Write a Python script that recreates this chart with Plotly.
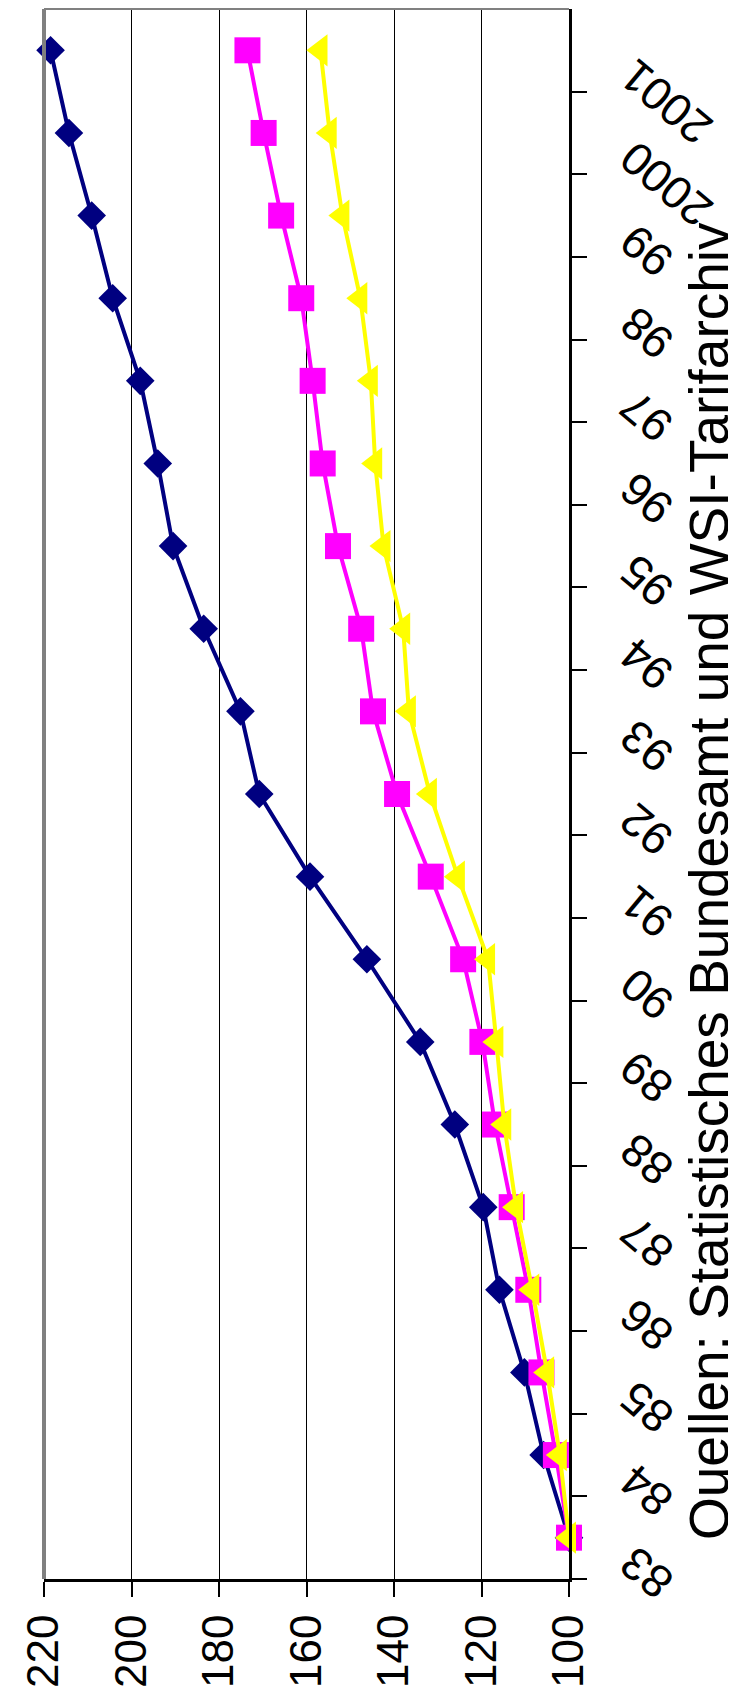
import plotly.graph_objects as go

years = ["83", "84", "85", "86", "87", "88", "89", "90", "91", "92", "93",
         "94", "95", "96", "97", "98", "99", "2000", "2001"]
series_blue = [100, 105.8, 110.2, 115.9, 119.6, 126.1, 134.0, 146.2, 159.2, 170.8,
               175.1, 183.5, 190.5, 194.0, 198.0, 204.3, 209.1, 214.3, 218.5]
series_pink = [100, 103.0, 106.3, 109.3, 113.1, 116.9, 119.8, 124.2, 131.6, 139.3,
               144.8, 147.5, 152.8, 156.3, 158.6, 161.2, 165.8, 169.8, 173.5]
series_yellow = [100, 102.1, 105.0, 108.4, 112.1, 114.8, 116.6, 118.5, 125.4, 131.8,
                 136.6, 137.9, 142.4, 144.3, 145.3, 147.7, 151.8, 154.7, 156.8]
value_ticks = [100, 120, 140, 160, 180, 200, 220]
source_text = "Quellen: Statistisches Bundesamt und WSI-Tarifarchiv"

FONT = "Liberation Sans, Arial, sans-serif"
idx = list(range(len(years)))

fig = go.Figure()
fig.add_trace(go.Scatter(
    x=series_blue, y=idx, mode="lines+markers",
    line=dict(color="#000080", width=4),
    marker=dict(symbol="diamond", size=22, color="#000080"),
    cliponaxis=False, showlegend=False))
fig.add_trace(go.Scatter(
    x=series_pink, y=idx, mode="lines+markers",
    line=dict(color="#FF00FF", width=4),
    marker=dict(symbol="square", size=26, color="#FF00FF"),
    cliponaxis=False, showlegend=False))
fig.add_trace(go.Scatter(
    x=series_yellow, y=idx, mode="lines+markers",
    line=dict(color="#FFFF00", width=4),
    marker=dict(symbol="triangle-left", size=28, color="#FFFF00"),
    cliponaxis=False, showlegend=False))

annotations = []
for i, lab in enumerate(years):
    annotations.append(dict(
        text=lab, xref="paper", x=1, xshift=39, xanchor="left",
        yref="y", y=i - 0.5, yshift=45, yanchor="top",
        textangle=-140, showarrow=False,
        font=dict(family=FONT, size=46, color="black")))
annotations.append(dict(
    text=source_text, xref="paper", x=(701 - 36) / 525, xanchor="center",
    yref="paper", y=(1571 - 873) / 1570, yanchor="middle",
    textangle=-90, showarrow=False,
    font=dict(family=FONT, size=55, color="black")))

fig.update_layout(
    width=736, height=1696,
    margin=dict(l=36, r=175, t=1, b=125, pad=0),
    paper_bgcolor="white", plot_bgcolor="white",
    font=dict(family=FONT, color="black"),
    xaxis=dict(
        range=[220, 100], tickvals=value_ticks,
        ticktext=[str(v) for v in value_ticks],
        tickangle=-90, tickfont=dict(size=44, family=FONT, color="black"),
        showgrid=True, gridcolor="black", gridwidth=1,
        zeroline=False, showline=True, linecolor="black", linewidth=3,
        ticks="outside", ticklen=15, tickwidth=2, tickcolor="black",
    ),
    yaxis=dict(
        range=[-0.5, len(years) - 0.5], side="right",
        tickvals=[i - 0.5 for i in range(len(years))],
        showticklabels=False, showgrid=False, zeroline=False,
        showline=True, linecolor="black", linewidth=3,
        ticks="outside", ticklen=15, tickwidth=2, tickcolor="black",
    ),
    annotations=annotations,
    shapes=[
        dict(type="line", xref="paper", yref="paper", x0=0, x1=0, y0=0, y1=1,
             line=dict(color="#808080", width=4)),
        dict(type="line", xref="paper", yref="paper", x0=0, x1=1, y0=1, y1=1,
             line=dict(color="#808080", width=2)),
    ],
)

fig.write_html("out.html")
